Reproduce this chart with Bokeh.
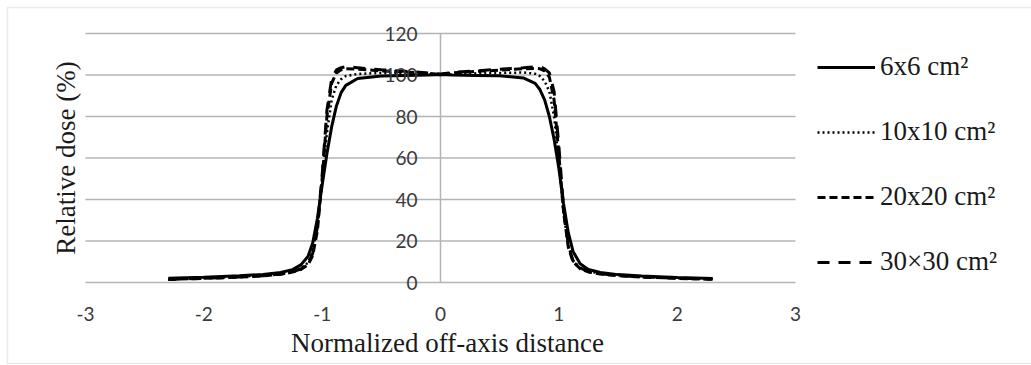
import math
from bokeh.plotting import figure
from bokeh.models import (Range1d, FixedTicker, Legend, LegendItem, Label, BoxAnnotation)
from bokeh.embed import file_html
from bokeh.resources import INLINE

# ---- data ----
x_vals = [-2.3, -2.0, -1.7, -1.5, -1.35, -1.25, -1.18, -1.12, -1.08, -1.04, -1.0, -0.96, -0.92,
          -0.88, -0.84, -0.8, -0.7, -0.5, -0.3, -0.1, 0.0, 0.1, 0.3, 0.5, 0.7, 0.8, 0.84, 0.88,
          0.92, 0.96, 1.0, 1.04, 1.08, 1.12, 1.18, 1.25, 1.35, 1.5, 1.7, 2.0, 2.3]

dose_6x6 = [2.0, 2.5, 3.2, 3.9, 4.8, 6.2, 8.5, 12.5, 19, 31, 47, 62, 75, 85, 91.5, 95, 98.3, 99.5,
            99.8, 100, 100.2, 100, 99.8, 99.6, 98.6, 96, 93, 88, 80, 69, 55, 38, 24, 15, 9, 6.3,
            4.8, 3.8, 3.1, 2.4, 1.9]
dose_10x10 = [1.6, 2.1, 2.8, 3.4, 4.2, 5.3, 6.8, 9.5, 15, 28, 50, 72, 88, 95, 98, 99.5, 100.5,
              101, 100.6, 100.3, 100, 100.4, 100.8, 101, 101.2, 100.6, 99.5, 97, 92, 80, 58, 33,
              18, 10.5, 7.0, 5.4, 4.3, 3.5, 2.8, 2.1, 1.6]
dose_20x20 = [1.5, 2.0, 2.6, 3.2, 4.0, 5.0, 6.3, 8.5, 13, 25, 50, 80, 96, 101, 102.5, 103, 102.8,
              102, 101.5, 100.8, 100.3, 101, 101.8, 102.3, 103, 103.2, 103, 102, 99, 88, 62, 34,
              17, 10, 6.6, 5.1, 4.1, 3.3, 2.6, 2.0, 1.5]
dose_30x30 = [1.5, 2.0, 2.6, 3.3, 4.1, 5.2, 6.5, 9, 14, 27, 52, 83, 98, 102.5, 103.5, 104, 103.5,
              102.5, 101.8, 101, 100.5, 101.2, 102, 102.8, 103.5, 104, 104, 103, 101, 92, 66, 36,
              18, 10.5, 7, 5.3, 4.2, 3.4, 2.7, 2.1, 1.6]

series_labels = ["6x6 cm²", "10x10 cm²", "20x20 cm²", "30×30 cm²"]
x_ticks = [-3, -2, -1, 0, 1, 2, 3]
y_ticks = [0, 20, 40, 60, 80, 100, 120]
x_title = "Normalized off-axis distance"
y_title = "Relative dose (%)"

SERIF = "Liberation Serif"
SANS = "Lato"
GRID = "#b4b4b4"

W, H = 1031, 365
# plot-area placement in the reference (pixels)
PL, PR, PT, PB = 85, 795, 33, 282
xs = (x_ticks[-1] - x_ticks[0]) / (PR - PL)      # data units per pixel
ys = (y_ticks[-1] - y_ticks[0]) / (PB - PT)

p = figure(width=W, height=H,
           x_range=Range1d(x_ticks[0] - PL * xs, x_ticks[-1] + (W - PR) * xs),
           y_range=Range1d(y_ticks[0] - (H - PB) * ys, y_ticks[-1] + PT * ys),
           output_backend="svg", toolbar_location=None,
           min_border_left=0, min_border_right=0, min_border_top=0, min_border_bottom=0)
p.outline_line_color = None
p.background_fill_color = "white"
p.border_fill_color = "white"

# grid lines (only across the plot area)
p.xgrid.visible = False
p.ygrid.visible = False
p.segment(x0=[x_ticks[0]] * len(y_ticks), y0=y_ticks, x1=[x_ticks[-1]] * len(y_ticks),
          y1=y_ticks, line_color=GRID, line_width=1.5)
p.segment(x0=[x_ticks[3]], y0=[y_ticks[0]], x1=[x_ticks[3]], y1=[y_ticks[-1]],
          line_color=GRID, line_width=1.5)

# y axis drawn at x = 0
p.yaxis.ticker = FixedTicker(ticks=y_ticks)
p.yaxis.fixed_location = 0
p.yaxis.axis_line_color = None
p.yaxis.major_tick_line_color = None
p.yaxis.minor_tick_line_color = None
p.yaxis.major_label_standoff = 17
p.yaxis.major_label_text_font = SANS
p.yaxis.major_label_text_font_size = "19px"
p.yaxis.major_label_text_color = "#3a3a3a"

# x axis drawn at y = 0
p.xaxis.ticker = FixedTicker(ticks=x_ticks)
p.xaxis.fixed_location = 0
p.xaxis.major_label_overrides = {t: str(t) for t in x_ticks}
p.xaxis.axis_line_color = None
p.xaxis.major_tick_line_color = None
p.xaxis.minor_tick_line_color = None
p.xaxis.major_label_standoff = 18
p.xaxis.major_label_text_font = SANS
p.xaxis.major_label_text_font_size = "19px"
p.xaxis.major_label_text_color = "#3a3a3a"

# axis titles
p.add_layout(Label(x=(x_ticks[0] + x_ticks[-1]) / 2, y=y_ticks[0], x_offset=7, y_offset=-60,
                   text=x_title, text_align="center", text_baseline="middle",
                   text_font=SERIF, text_font_size="27px", text_color="#1a1a1a"))
p.add_layout(Label(x=x_ticks[0], y=(y_ticks[0] + y_ticks[-1]) / 2, x_offset=-20, text=y_title,
                   angle=math.pi / 2, text_align="center", text_baseline="middle",
                   text_font=SERIF, text_font_size="27px", text_color="#1a1a1a"))

# curves
r30 = p.line(x_vals, dose_30x30, line_color="black", line_width=3, line_dash="12 9")
r20 = p.line(x_vals, dose_20x20, line_color="black", line_width=3, line_dash="8 4")
r10 = p.line(x_vals, dose_10x10, line_color="black", line_width=2.5, line_dash="2 3")
r6 = p.line(x_vals, dose_6x6, line_color="black", line_width=3)

legend = Legend(items=[LegendItem(label=series_labels[0], renderers=[r6]),
                       LegendItem(label=series_labels[1], renderers=[r10]),
                       LegendItem(label=series_labels[2], renderers=[r20]),
                       LegendItem(label=series_labels[3], renderers=[r30])],
                location=(817, 88), margin=0, padding=0, spacing=34,
                glyph_width=58, glyph_height=30, label_height=30, label_standoff=5,
                label_text_font=SERIF, label_text_font_size="27px", label_text_color="#1a1a1a",
                border_line_color=None, background_fill_alpha=0)
p.add_layout(legend)

# outer border (screen y counted from the bottom)
p.add_layout(BoxAnnotation(left=7, right=W + 10, top=H - 7, bottom=H - 363, left_units="screen",
                           right_units="screen", top_units="screen", bottom_units="screen",
                           fill_alpha=0, line_color="#bdbdbd", line_width=1.5))

open("out.html", "w").write(file_html(p, INLINE))
